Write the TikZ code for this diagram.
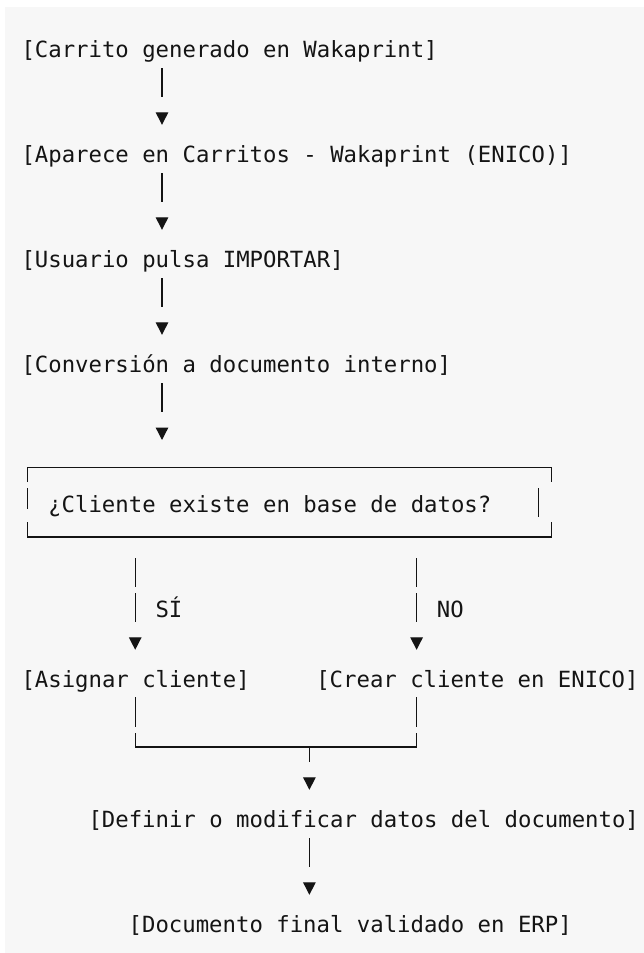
\documentclass[tikz,border=0pt]{standalone}
\usepackage{fontspec}
\setmonofont{DejaVu Sans Mono}
\usetikzlibrary{arrows.meta}
\definecolor{bg}{HTML}{F7F7F7}
\definecolor{ink}{HTML}{141414}
\begin{document}
\begin{tikzpicture}[x=1pt,y=-1pt,
  lbl/.style={anchor=base west, inner sep=0pt, text height=16pt, text depth=4pt,
              font=\ttfamily\fontsize{22.3}{26}\selectfont, text=ink},
  wire/.style={draw=ink, line width=1.3pt},
  conn/.style={wire, -{Triangle[width=12.5pt,length=12.5pt]},
               shorten <=7pt, shorten >=21pt, dash pattern=on 29pt off 40pt},
  frame/.style={draw=ink, line width=1.4pt}
]
% canvas
\fill[white] (0,0) rectangle (644,953);
\fill[bg] (5,7) rectangle (644,953);
\useasboundingbox (0,0) rectangle (644,953);

% column guides
\coordinate (c10) at (162,0);
\coordinate (c8) at (135.2,0);
\coordinate (c29) at (416.6,0);
\coordinate (c21) at (309.4,0);

% text nodes
\node[lbl] (n1) at (21.3,57) {[Carrito generado en Wakaprint]};
\node[lbl] (n2) at (21.3,162) {[Aparece en Carritos - Wakaprint (ENICO)]};
\node[lbl] (n3) at (21.3,267) {[Usuario pulsa IMPORTAR]};
\node[lbl] (n4) at (21.3,372) {[Conversión a documento interno]};
\node[lbl] (qt) at (48.1,512) {¿Cliente existe en base de datos?};
\node[lbl] (yes) at (155.3,617) {SÍ};
\node[lbl] (no) at (436.7,617) {NO};
\node[lbl] (asg) at (21.3,687) {[Asignar cliente]};
\node[lbl] (crea) at (316.1,687) {[Crear cliente en ENICO]};
\node[lbl] (def) at (88.3,827) {[Definir o modificar datos del documento]};
\node[lbl] (doc) at (128.5,932) {[Documento final validado en ERP]};

% decision frame
\coordinate (qtl) at (27.5,467.5);
\coordinate (qtr) at (551.5,467.5);
\coordinate (qbl) at (27.5,537);
\coordinate (qbr) at (551.5,537);
\draw[frame] (27.5,482) -- (qtl) -- (qtr) -- (551.5,482);
\draw[frame] (27.5,522) -- (qbl) -- (qbr) -- (551.5,522);
\draw[frame] (27.5,488) -- (27.5,509);
\draw[frame] (538.5,488) -- (538.5,517);

% main chain
\draw[conn] (n1.south -| c10) -- (n2.north -| c10);
\draw[conn] (n2.south -| c10) -- (n3.north -| c10);
\draw[conn] (n3.south -| c10) -- (n4.north -| c10);
\draw[conn, shorten >=27.5pt] (n4.south -| c10) -- (qtl -| c10);

% branches
\draw[conn, shorten <=21pt, dash pattern=on 29pt off 6pt on 29pt off 40pt]
  (qbl -| c8) -- (asg.north -| c8);
\draw[conn, shorten <=21pt, dash pattern=on 29pt off 6pt on 29pt off 40pt]
  (qbl -| c29) -- (crea.north -| c29);

% merge
\coordinate (mrg) at (309.4,747);
\draw[wire, shorten <=6pt, shorten >=6pt,
      dash pattern=on 30pt off 6pt on 309.4pt off 6pt on 30pt off 40pt]
  (asg.south -| c8) |- (mrg) -| (crea.south -| c29);
\draw[conn, shorten <=0pt, dash pattern=on 15pt off 40pt] (mrg) -- (def.north -| mrg);
\draw[conn] (def.south -| c21) -- (doc.north -| c21);
\end{tikzpicture}
\end{document}
